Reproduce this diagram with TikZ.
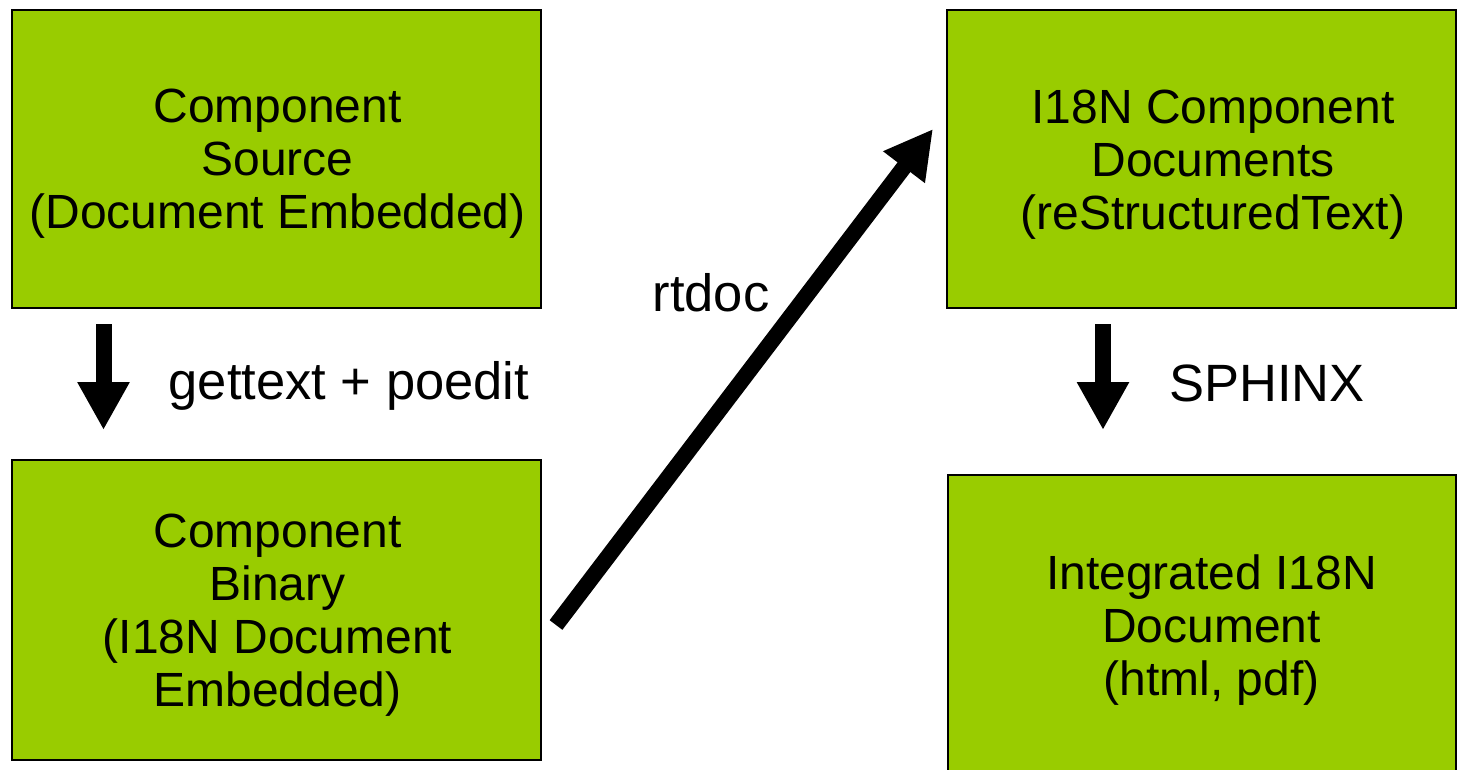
\documentclass[tikz,border=0pt]{standalone}
\usepackage{fontspec}
\setmainfont{Liberation Sans}
\usetikzlibrary{arrows.meta}
\definecolor{boxgreen}{HTML}{99CC00}
\tikzset{
    stagebox/.style={draw=black, line width=2pt, fill=boxgreen, inner sep=0pt},
    stagetext/.style={align=center, inner sep=0pt, font=\fontsize{48}{53}\selectfont},
    flowarrow/.style={line width=16pt, -{Triangle[length=48pt,width=49pt]}},
    steplabel/.style={font=\fontsize{52.5}{60}\selectfont}
}
\begin{document}
\begin{tikzpicture}[x=1pt,y=-1pt]
    \useasboundingbox (0,0) rectangle (1459,770);
    %% Stages
    \node[stagebox, minimum width=529pt, minimum height=298pt] (srcbox) at (276.5,159) {};
    \node[stagebox, minimum width=529pt, minimum height=300pt] (binbox) at (276.5,610) {};
    \node[stagebox, minimum width=509pt, minimum height=298pt] (rstbox) at (1201.5,159) {};
    \node[stagebox, minimum width=508pt, minimum height=302pt] (docbox) at (1202,626) {};
    %% Stage texts
    \node[stagetext] (srctext) at ([shift={(1,5)}]srcbox.center)
        {Component\\Source\\(Document Embedded)};
    \node[stagetext] (bintext) at ([shift={(1,5)}]binbox.center)
        {Component\\Binary\\(I18N Document\\Embedded)};
    \node[stagetext] (rsttext) at ([shift={(11.5,6)}]rstbox.center)
        {I18N Component\\Documents\\(reStructuredText)};
    \node[stagetext] (doctext) at ([shift={(9.5,4)}]docbox.center)
        {Integrated I18N\\Document\\(html, pdf)};
    %% Arrow ends
    \coordinate (gettextstart) at (103.5,324);
    \coordinate (gettextend) at (103.5,430);
    \coordinate (rtdocstart) at (556,625);
    \coordinate (rtdocend) at (933,129);
    \coordinate (sphinxstart) at (1103,324);
    \coordinate (sphinxend) at (1103,430);
    %% Tools
    \draw[flowarrow] (gettextstart) -- (gettextend);
    \draw[flowarrow] (rtdocstart) -- (rtdocend);
    \draw[flowarrow] (sphinxstart) -- (sphinxend);
    %% Labels
    \node[steplabel] (gettextlabel) at (349,386) {gettext + poedit};
    \node[steplabel] (rtdoclabel) at (711,293) {rtdoc};
    \node[steplabel] (sphinxlabel) at (1267,383) {SPHINX};
\end{tikzpicture}
\end{document}
